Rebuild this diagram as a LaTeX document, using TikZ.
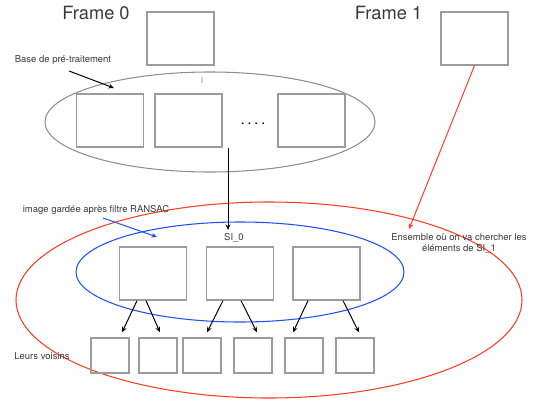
\documentclass[tikz,border=0pt]{standalone}
\usepackage{fontspec}
\setmainfont{TeX Gyre Heros}
\usetikzlibrary{arrows.meta,shapes.geometric}
\definecolor{boxgray}{HTML}{9C9C9C}
\definecolor{ringgray}{HTML}{8E8E8E}
\definecolor{setred}{HTML}{FF3B22}
\definecolor{keptblue}{HTML}{1E4EFF}
\definecolor{ink}{HTML}{3A3A3A}
\tikzset{
  bigbox/.style={draw=boxgray,line width=1.8pt,inner sep=0pt,
    minimum width=33.5mm,minimum height=26.5mm},
  smallbox/.style={draw=boxgray,line width=1.8pt,inner sep=0pt,
    minimum width=19mm,minimum height=17.5mm},
  ring/.style={ellipse,inner sep=0pt,line width=1.5pt},
  label/.style={font=\fontsize{13.5}{16}\selectfont,text=ink,inner sep=0pt,align=center},
  title/.style={font=\fontsize{26}{30}\selectfont,text=ink,inner sep=0pt},
  flow/.style={-{Stealth[length=2.8mm,width=2.4mm]},line width=1.4pt,draw=black}
}

\begin{document}
\begin{tikzpicture}[x=0.5mm,y=-0.5mm]
  \useasboundingbox (0,0) rectangle (537,401);

  % the two frames
  \node[title] (f0) at (96,13) {Frame 0};
  \node[title] (f1) at (388.5,13) {Frame 1};
  \node[bigbox] (top0) at (180.5,38.5) {};
  \node[bigbox] (top1) at (474.5,38.5) {};

  % pre-processing base
  \node[ring,draw=ringgray,minimum width=165mm,minimum height=50mm] (base) at (210,122) {};
  \node[text=ringgray,font=\fontsize{12}{12}\selectfont,inner sep=0pt] (tick) at (202,80) {I};
  \node[bigbox] (pre1) at (110,120.5) {};
  \node[bigbox] (pre2) at (188.5,120.5) {};
  \node[label,text=black,font=\bfseries\fontsize{15}{16}\selectfont] (dots) at (253,124) {. . . .};
  \node[bigbox] (pre3) at (311.5,120.5) {};
  \node[label] (baselbl) at (63,60) {Base de pré-traitement};
  \coordinate (basetip) at (114,88);
  \draw[flow] (69,71) -- (basetip);

  % search set and kept images
  \node[ring,draw=setred,minimum width=253mm,minimum height=98mm] (search) at (269,300) {};
  \node[ring,draw=keptblue,minimum width=164mm,minimum height=50mm] (kept) at (240,272) {};
  \node[label] (keptlbl) at (96,210) {image gardée après filtre RANSAC};
  \coordinate (keptstart) at (103,218);
  \coordinate (kepttip) at (157,237);
  \draw[flow,draw=keptblue] (keptstart) -- (kepttip);

  \node[label] (si0) at (234,238) {SI\_0};
  \coordinate (down) at (228,148);
  \draw[flow] (down) -- (228,230);

  \node[label] (ens) at (459,243) {Ensemble où on va chercher les\\éléments de SI\_1};
  \coordinate (enstip) at (409,229);
  \draw[flow,draw=setred] (top1.south) -- (enstip);

  \node[bigbox] (a) at (153,273.5) {};
  \node[bigbox] (b) at (240,273.5) {};
  \node[bigbox] (c) at (326.5,273.5) {};

  % neighbours
  \node[label] (voisins) at (42,356) {Leurs voisins};
  \node[smallbox] (n1) at (110,355.5) {};
  \node[smallbox] (n2) at (158,355.5) {};
  \node[smallbox] (n3) at (202,355.5) {};
  \node[smallbox] (n4) at (253,355.5) {};
  \node[smallbox] (n5) at (304,355.5) {};
  \node[smallbox] (n6) at (355,355.5) {};
  \draw[flow] ([xshift=-8mm]a.south) -- ([xshift=6mm,yshift=2.5mm]n1.north);
  \draw[flow] ([xshift=-3.5mm]a.south) -- ([xshift=1mm,yshift=2.5mm]n2.north);
  \draw[flow] ([xshift=-8.5mm]b.south) -- ([xshift=2.5mm,yshift=2.5mm]n3.north);
  \draw[flow] ([xshift=0.5mm]b.south) -- ([xshift=2mm,yshift=2.5mm]n4.north);
  \draw[flow] ([xshift=-9.25mm]c.south) -- ([xshift=-5.5mm,yshift=2.5mm]n5.north);
  \draw[flow] ([xshift=8.25mm]c.south) -- ([xshift=2mm,yshift=2.5mm]n6.north);
\end{tikzpicture}
\end{document}
